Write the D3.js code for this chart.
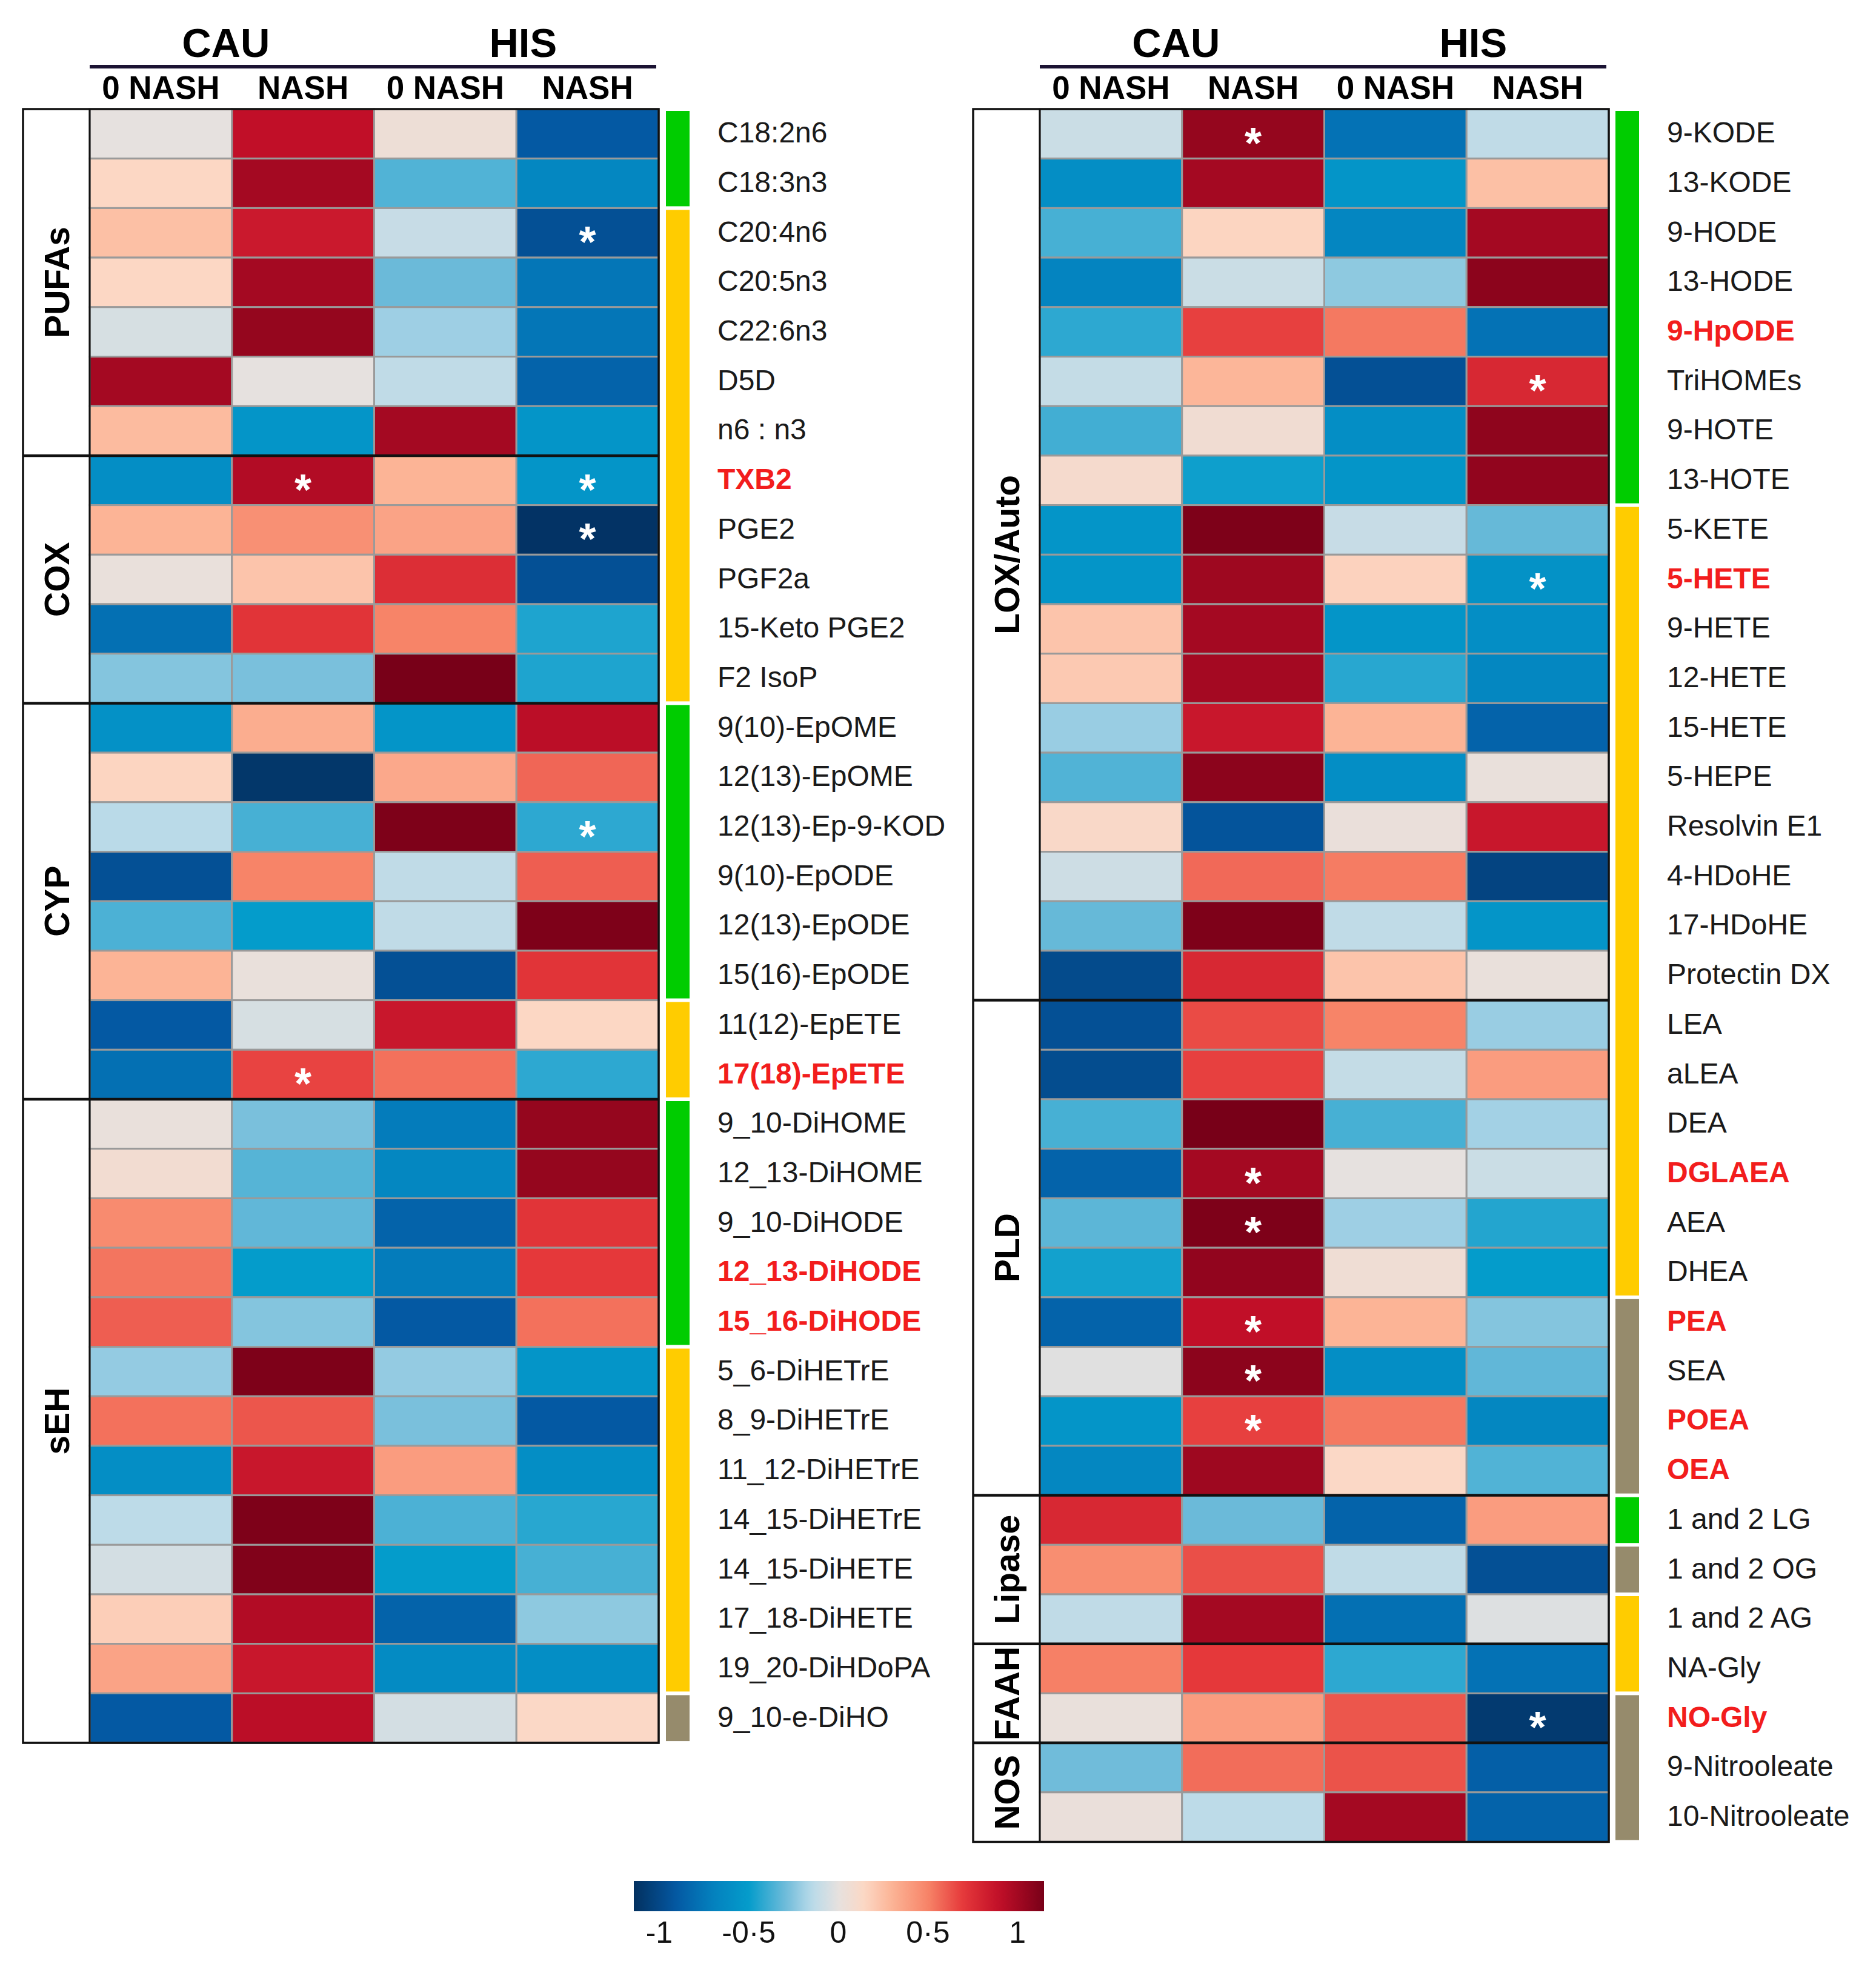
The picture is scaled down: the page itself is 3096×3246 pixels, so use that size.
<!DOCTYPE html>
<html>
<head>
<meta charset="utf-8">
<script src="https://cdn.jsdelivr.net/npm/d3@7"></script>
<style>
  body { margin: 0; background: #fff; }
  text { font-family: "Liberation Sans", Arial, sans-serif; }
</style>
</head>
<body>
<div id="heatmap"></div>
<script>
// ---- data ----
const topLabels = ['CAU', 'HIS'];
const subLabels = ['0 NASH', 'NASH', '0 NASH', 'NASH'];
const columns = ['CAU_0', 'CAU_N', 'HIS_0', 'HIS_N'];

const leftGroupNames = ['PUFAs', 'COX', 'CYP', 'sEH'];
const leftGroupSizes = [7, 5, 8, 13];
const leftLabels = ['C18:2n6', 'C18:3n3', 'C20:4n6', 'C20:5n3', 'C22:6n3', 'D5D', 'n6 : n3',
  'TXB2', 'PGE2', 'PGF2a', '15-Keto PGE2', 'F2 IsoP',
  '9(10)-EpOME', '12(13)-EpOME', '12(13)-Ep-9-KOD', '9(10)-EpODE', '12(13)-EpODE', '15(16)-EpODE', '11(12)-EpETE', '17(18)-EpETE',
  '9_10-DiHOME', '12_13-DiHOME', '9_10-DiHODE', '12_13-DiHODE', '15_16-DiHODE', '5_6-DiHETrE', '8_9-DiHETrE',
  '11_12-DiHETrE', '14_15-DiHETrE', '14_15-DiHETE', '17_18-DiHETE', '19_20-DiHDoPA', '9_10-e-DiHO'];
const leftValues = [
  [0.00, 0.90, 0.05, -0.90],
  [0.15, 1.00, -0.35, -0.65],
  [0.25, 0.85, -0.10, -0.95],
  [0.15, 1.00, -0.30, -0.75],
  [-0.05, 1.05, -0.20, -0.75],
  [1.00, 0.00, -0.12, -0.85],
  [0.27, -0.55, 1.00, -0.55],
  [-0.60, 0.95, 0.30, -0.55],
  [0.30, 0.45, 0.37, -1.12],
  [0.02, 0.23, 0.75, -0.95],
  [-0.78, 0.72, 0.50, -0.45],
  [-0.25, -0.27, 1.15, -0.45],
  [-0.58, 0.33, -0.55, 0.92],
  [0.16, -1.10, 0.35, 0.58],
  [-0.14, -0.37, 1.13, -0.42],
  [-0.95, 0.50, -0.12, 0.60],
  [-0.36, -0.50, -0.12, 1.13],
  [0.30, 0.02, -0.95, 0.72],
  [-0.90, -0.05, 0.86, 0.15],
  [-0.78, 0.67, 0.55, -0.42],
  [0.02, -0.27, -0.72, 1.05],
  [0.08, -0.34, -0.65, 1.05],
  [0.47, -0.32, -0.85, 0.72],
  [0.54, -0.50, -0.72, 0.70],
  [0.60, -0.25, -0.90, 0.55],
  [-0.22, 1.13, -0.22, -0.55],
  [0.55, 0.62, -0.27, -0.90],
  [-0.60, 0.86, 0.40, -0.60],
  [-0.13, 1.13, -0.36, -0.43],
  [-0.06, 1.12, -0.50, -0.37],
  [0.19, 0.95, -0.85, -0.23],
  [0.37, 0.86, -0.62, -0.60],
  [-0.90, 0.92, -0.06, 0.14]
];
const leftClasses = ['g', 'g', 'y', 'y', 'y', 'y', 'y', 'y', 'y', 'y', 'y', 'y',
  'g', 'g', 'g', 'g', 'g', 'g', 'y', 'y',
  'g', 'g', 'g', 'g', 'g', 'y', 'y', 'y', 'y', 'y', 'y', 'y', 't'];
const leftRed = ['TXB2', '17(18)-EpETE', '12_13-DiHODE', '15_16-DiHODE'];
const leftStars = [['C20:4n6', 3], ['TXB2', 1], ['TXB2', 3], ['PGE2', 3], ['12(13)-Ep-9-KOD', 3], ['17(18)-EpETE', 1]];

const rightGroupNames = ['LOX/Auto', 'PLD', 'Lipase', 'FAAH', 'NOS'];
const rightGroupSizes = [18, 10, 3, 2, 2];
const rightLabels = ['9-KODE', '13-KODE', '9-HODE', '13-HODE', '9-HpODE', 'TriHOMEs', '9-HOTE', '13-HOTE',
  '5-KETE', '5-HETE', '9-HETE', '12-HETE', '15-HETE', '5-HEPE', 'Resolvin E1', '4-HDoHE', '17-HDoHE', 'Protectin DX',
  'LEA', 'aLEA', 'DEA', 'DGLAEA', 'AEA', 'DHEA', 'PEA', 'SEA', 'POEA', 'OEA',
  '1 and 2 LG', '1 and 2 OG', '1 and 2 AG', 'NA-Gly', 'NO-Gly', '9-Nitrooleate', '10-Nitrooleate'];
const rightValues = [
  [-0.09, 1.05, -0.77, -0.12],
  [-0.60, 1.00, -0.55, 0.25],
  [-0.37, 0.16, -0.66, 1.00],
  [-0.67, -0.09, -0.23, 1.08],
  [-0.42, 0.68, 0.53, -0.77],
  [-0.11, 0.29, -0.95, 0.78],
  [-0.38, 0.07, -0.60, 1.07],
  [0.10, -0.48, -0.55, 1.06],
  [-0.55, 1.13, -0.10, -0.31],
  [-0.55, 1.02, 0.17, -0.57],
  [0.23, 1.00, -0.55, -0.60],
  [0.21, 1.00, -0.43, -0.65],
  [-0.21, 0.86, 0.30, -0.85],
  [-0.35, 1.08, -0.60, 0.02],
  [0.13, -0.93, 0.03, 0.86],
  [-0.08, 0.57, 0.52, -1.02],
  [-0.31, 1.13, -0.12, -0.55],
  [-0.98, 0.78, 0.23, 0.02],
  [-0.95, 0.65, 0.50, -0.21],
  [-0.97, 0.68, -0.11, 0.40],
  [-0.37, 1.15, -0.37, -0.19],
  [-0.85, 1.00, 0.00, -0.09],
  [-0.33, 1.13, -0.20, -0.44],
  [-0.47, 1.06, 0.06, -0.50],
  [-0.85, 0.90, 0.30, -0.25],
  [-0.02, 1.08, -0.60, -0.32],
  [-0.55, 0.68, 0.53, -0.65],
  [-0.65, 1.02, 0.14, -0.35],
  [0.78, -0.30, -0.85, 0.40],
  [0.46, 0.64, -0.12, -0.95],
  [-0.12, 1.00, -0.78, -0.03],
  [0.51, 0.70, -0.42, -0.77],
  [0.02, 0.40, 0.62, -1.08],
  [-0.29, 0.56, 0.63, -0.87],
  [0.03, -0.13, 1.00, -0.85]
];
const rightClasses = ['g', 'g', 'g', 'g', 'g', 'g', 'g', 'g',
  'y', 'y', 'y', 'y', 'y', 'y', 'y', 'y', 'y', 'y', 'y', 'y', 'y', 'y', 'y', 'y',
  't', 't', 't', 't', 'g', 't', 'y', 'y', 't', 't', 't'];
const rightRed = ['9-HpODE', '5-HETE', 'DGLAEA', 'PEA', 'POEA', 'OEA', 'NO-Gly'];
const rightStars = [['9-KODE', 1], ['TriHOMEs', 3], ['5-HETE', 3], ['DGLAEA', 1], ['AEA', 1],
  ['PEA', 1], ['SEA', 1], ['POEA', 1], ['NO-Gly', 3]];

const legendTicks = [-1, -0.5, 0, 0.5, 1];

// ---- colours ----
const classColor = { g: '#00cc00', y: '#ffcc00', t: '#968b6c' };
const color = d3.scaleLinear()
  .domain([-1.14, -0.9, -0.7, -0.5, -0.3, -0.15, 0, 0.15, 0.3, 0.5, 0.7, 0.9, 1.15])
  .range(['#03305f', '#0459a3', '#0480be', '#049ccb', '#6bbad9', '#b7dae9', '#e6e1df',
    '#fcd7c4', '#fcb496', '#f78468', '#e5383a', '#c10f28', '#780018'])
  .clamp(true);

// ---- layout ----
const width = 3096;
const height = 3246;
const topY = 180;
const rowH = 81.7;

const svg = d3.select('#heatmap')
  .append('svg')
  .attr('width', width)
  .attr('height', height);

svg.append('rect').attr('width', width).attr('height', height).attr('fill', '#fff');

function drawPanel(cfg, labels, values, groupNames, groupSizes, classes, redLabels, stars) {
  const g = svg.append('g');
  const x = d3.scaleBand().domain(columns).range([cfg.x0, cfg.x1]);
  const y = d3.scaleBand().domain(labels).range([topY, topY + labels.length * rowH]);
  const bottom = topY + labels.length * rowH;

  // headers (CAU sits a little left, HIS a little right of the pair centre)
  topLabels.forEach((t, i) => {
    g.append('text')
      .attr('x', x(columns[i * 2 + 1]) + (i === 0 ? -10 : 11))
      .attr('y', 94)
      .attr('text-anchor', 'middle')
      .attr('font-weight', 'bold')
      .attr('font-size', 67)
      .text(t);
  });
  g.append('line')
    .attr('x1', cfg.x0).attr('x2', cfg.x1 - 4)
    .attr('y1', 110).attr('y2', 110)
    .attr('stroke', '#1b1333').attr('stroke-width', 6);
  subLabels.forEach((t, i) => {
    g.append('text')
      .attr('x', x(columns[i]) + x.bandwidth() / 2)
      .attr('y', 163)
      .attr('text-anchor', 'middle')
      .attr('font-weight', 'bold')
      .attr('font-size', 53)
      .text(t);
  });

  // cells
  const cells = [];
  values.forEach((row, r) => row.forEach((v, c) => cells.push({ label: labels[r], col: columns[c], v: v })));
  g.append('g').selectAll('rect')
    .data(cells)
    .join('rect')
    .attr('x', d => x(d.col))
    .attr('y', d => y(d.label))
    .attr('width', x.bandwidth())
    .attr('height', y.bandwidth())
    .attr('fill', d => color(d.v))
    .attr('stroke', '#9a9a9a')
    .attr('stroke-width', 3);

  // significance stars
  g.append('g').selectAll('text')
    .data(stars)
    .join('text')
    .attr('x', d => x(columns[d[1]]) + x.bandwidth() / 2)
    .attr('y', d => y(d[0]) + y.bandwidth() / 2 + 40)
    .attr('text-anchor', 'middle')
    .attr('font-weight', 'bold')
    .attr('font-size', 72)
    .attr('fill', '#fff')
    .text('*');

  // group label column + dividers
  g.append('rect')
    .attr('x', cfg.boxLeft).attr('y', topY)
    .attr('width', cfg.x1 - cfg.boxLeft).attr('height', bottom - topY)
    .attr('fill', 'none').attr('stroke', '#111').attr('stroke-width', 3.5);
  g.append('line')
    .attr('x1', cfg.x0).attr('x2', cfg.x0)
    .attr('y1', topY).attr('y2', bottom)
    .attr('stroke', '#111').attr('stroke-width', 3);

  let start = 0;
  groupNames.forEach((name, i) => {
    const y0 = y(labels[start]);
    const y1 = y0 + groupSizes[i] * rowH;
    if (start > 0) {
      g.append('line')
        .attr('x1', cfg.boxLeft).attr('x2', cfg.x1)
        .attr('y1', y0).attr('y2', y0)
        .attr('stroke', '#111').attr('stroke-width', 4.5);
    }
    g.append('text')
      .attr('transform', 'translate(' + ((cfg.boxLeft + cfg.x0) / 2) + ',' + ((y0 + y1) / 2) + ') rotate(-90)')
      .attr('dy', '0.36em')
      .attr('text-anchor', 'middle')
      .attr('font-weight', 'bold')
      .attr('font-size', 57)
      .text(name);
    start += groupSizes[i];
  });

  // class side bar, one rect per run
  let runStart = 0;
  classes.forEach((c, i) => {
    if (i === classes.length - 1 || classes[i + 1] !== c) {
      g.append('rect')
        .attr('x', cfg.barX)
        .attr('y', y(labels[runStart]) + 3)
        .attr('width', 39)
        .attr('height', (i - runStart + 1) * rowH - 6)
        .attr('fill', classColor[c]);
      runStart = i + 1;
    }
  });

  // row labels
  g.append('g').selectAll('text')
    .data(labels)
    .join('text')
    .attr('x', cfg.labelX)
    .attr('y', d => y(d) + y.bandwidth() / 2)
    .attr('dy', '0.3em')
    .attr('font-size', 48)
    .attr('font-weight', d => redLabels.includes(d) ? 'bold' : 'normal')
    .attr('fill', d => redLabels.includes(d) ? '#f21d1d' : '#1a1a1a')
    .text(d => d);
}

drawPanel({ boxLeft: 38, x0: 148, x1: 1087, barX: 1099, labelX: 1184 },
  leftLabels, leftValues, leftGroupNames, leftGroupSizes, leftClasses, leftRed, leftStars);
drawPanel({ boxLeft: 1606, x0: 1716, x1: 2655, barX: 2666, labelX: 2751 },
  rightLabels, rightValues, rightGroupNames, rightGroupSizes, rightClasses, rightRed, rightStars);

// ---- colour key ----
const keyScale = d3.scaleLinear().domain([-1.14, 1.15]).range([1046, 1723]);
const grad = svg.append('defs').append('linearGradient').attr('id', 'keygrad');
grad.selectAll('stop')
  .data(d3.range(0, 1.0001, 0.02))
  .join('stop')
  .attr('offset', d => d)
  .attr('stop-color', d => color(-1.14 + d * 2.29));
svg.append('rect')
  .attr('x', keyScale(-1.14)).attr('y', 3104)
  .attr('width', keyScale(1.15) - keyScale(-1.14)).attr('height', 50)
  .attr('fill', 'url(#keygrad)');
const keyAxis = svg.append('g')
  .attr('transform', 'translate(0,3160)')
  .call(d3.axisBottom(keyScale).tickValues(legendTicks).tickSize(0)
    .tickFormat(d => String(d).replace('.', '·')));
keyAxis.select('.domain').remove();
keyAxis.selectAll('text')
  .attr('font-size', 50)
  .attr('fill', '#111')
  .attr('dy', '0.85em')
  .style('font-family', '"Liberation Sans", Arial, sans-serif');
</script>
</body>
</html>
